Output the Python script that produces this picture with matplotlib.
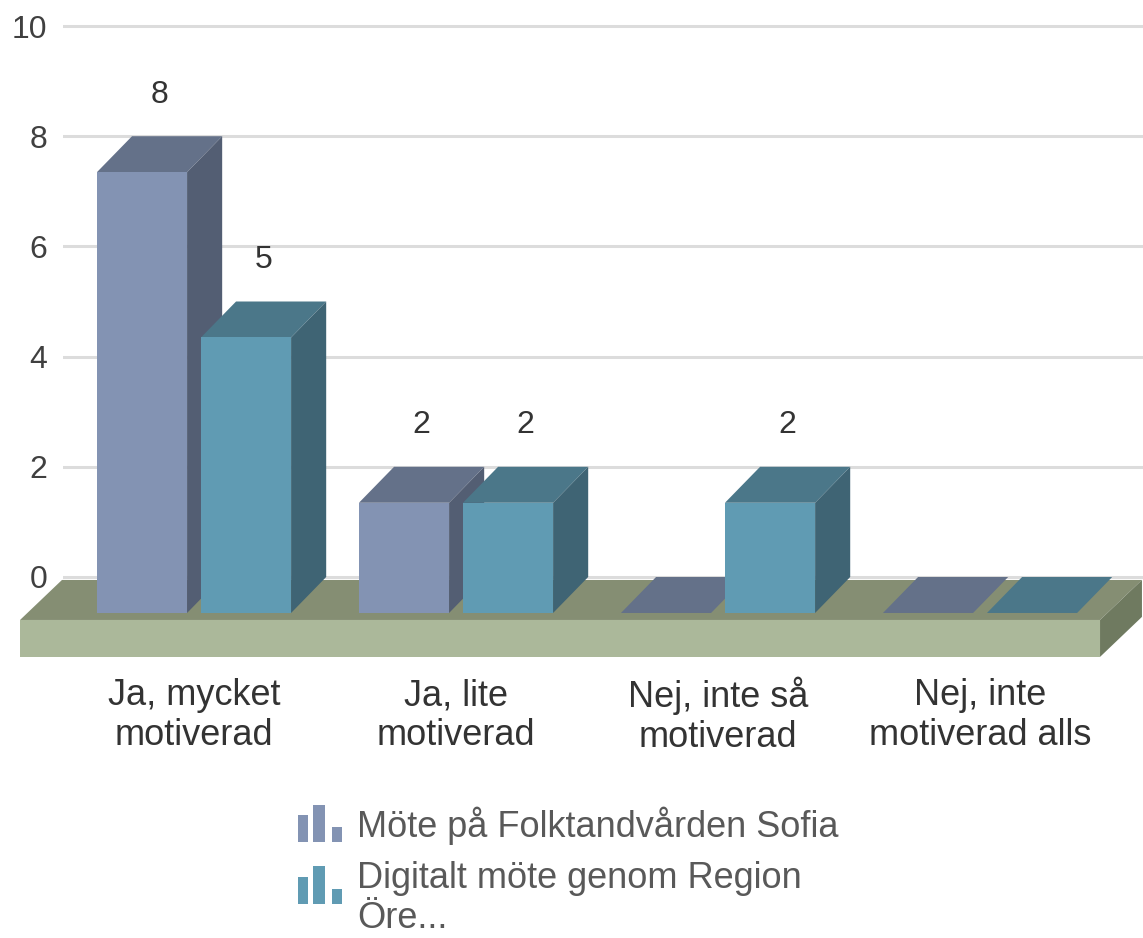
import matplotlib
matplotlib.use("Agg")
import matplotlib.pyplot as plt
from matplotlib.patches import Polygon, Rectangle
from matplotlib.legend_handler import HandlerBase

# ---------------- data ----------------
categories = ["Ja, mycket\nmotiverad", "Ja, lite\nmotiverad",
              "Nej, inte så\nmotiverad", "Nej, inte\nmotiverad alls"]
series_names = ["Möte på Folktandvården Sofia", "Digitalt möte genom Region\nÖre..."]
values_sofia = [8, 2, 0, 0]
values_digital = [5, 2, 2, 0]
y_ticks = [0, 2, 4, 6, 8, 10]

# ---------------- style ----------------
FONT = ["Liberation Sans", "DejaVu Sans"]
plt.rcParams["font.family"] = FONT
series_colors = [
    {"front": "#8393b3", "top": "#647189", "side": "#535e73"},
    {"front": "#609bb3", "top": "#4b7789", "side": "#3f6474"},
]
floor_colors = {"top": "#858e73", "front": "#abb89a", "side": "#6f7a60"}
grid_color = "#dcdcdc"

bar_w = 0.344      # width of a bar front face (category units)
bar_gap = 0.053    # gap between bars inside a group
dx, dy = 0.134, 0.653          # 3D depth offset of bars
floor_back_y = -0.054
floor_front_y = -0.78
floor_thick = 0.67
fdx = 0.160
fdy = floor_back_y - floor_front_y
floor_left, floor_right = -0.664, 3.458  # floor front edge x-range

fig = plt.figure(figsize=(11.43, 9.38), dpi=100)
ax = fig.add_axes([63 / 1143, 0, 1080 / 1143, 1])
ax.set_xlim(-0.5, 3.622)
ax.set_ylim(-6.552, 10.472)
for s in ax.spines.values():
    s.set_visible(False)
ax.set_xticks([])
ax.set_yticks(y_ticks)
ax.set_yticklabels([str(t) for t in y_ticks])
ax.tick_params(axis="y", length=0, pad=11.5, labelsize=23, labelcolor="#404040")
ax.yaxis.grid(True, color=grid_color, linewidth=2.2)
ax.set_axisbelow(True)

# ---------------- floor ----------------
ft = floor_front_y
floor_top = Polygon([(floor_left, ft), (floor_right, ft),
                     (floor_right + fdx, ft + fdy), (floor_left + fdx, ft + fdy)],
                    closed=True, facecolor=floor_colors["top"], edgecolor="none",
                    zorder=2, clip_on=False)
floor_front = Rectangle((floor_left, ft - floor_thick), floor_right - floor_left, floor_thick,
                        facecolor=floor_colors["front"], edgecolor="none",
                        zorder=2, clip_on=False)
floor_side = Polygon([(floor_right, ft), (floor_right + fdx, ft + fdy),
                      (floor_right + fdx, ft + fdy - floor_thick),
                      (floor_right, ft - floor_thick)],
                     closed=True, facecolor=floor_colors["side"], edgecolor="none",
                     zorder=2, clip_on=False)
for p in (floor_top, floor_front, floor_side):
    ax.add_patch(p)

# ---------------- bars ----------------
all_series = [values_sofia, values_digital]
offsets = [-(bar_gap / 2 + bar_w / 2), bar_gap / 2 + bar_w / 2]
z = 3
for ci in range(len(categories)):
    for si, vals in enumerate(all_series):
        v = vals[ci]
        col = series_colors[si]
        xc = ci + offsets[si]
        x0, x1 = xc - bar_w / 2, xc + bar_w / 2
        ax.bar(xc, v, width=bar_w, bottom=-dy, color=col["front"],
               edgecolor="none", zorder=z + 0.2)
        top = Polygon([(x0, v - dy), (x1, v - dy), (x1 + dx, v), (x0 + dx, v)],
                      closed=True, facecolor=col["top"], edgecolor="none", zorder=z)
        side = Polygon([(x1, -dy), (x1 + dx, 0), (x1 + dx, v), (x1, v - dy)],
                       closed=True, facecolor=col["side"], edgecolor="none", zorder=z)
        ax.add_patch(top)
        ax.add_patch(side)
        if v > 0:
            ax.text(xc + dx / 2, v + 0.75, str(v), ha="center", va="center",
                    fontsize=23, color="#333333", zorder=10)
        z += 1

# ---------------- category labels ----------------
for ci, lab in enumerate(categories):
    ax.text(ci, -2.52, lab, ha="center", va="center", fontsize=26,
            color="#333333", linespacing=1.195, clip_on=False)

# ---------------- legend ----------------
class BarIconHandler(HandlerBase):
    def __init__(self, yshift=0.0):
        super().__init__()
        self.yshift = yshift

    def create_artists(self, legend, orig_handle, xdescent, ydescent,
                       width, height, fontsize, trans):
        c = orig_handle.get_facecolor()
        widths = [0.23, 0.27, 0.23]
        xs = [0.0, 0.34, 0.77]
        hs = [0.75, 1.05, 0.42]
        y0 = (-0.14 + self.yshift) * fontsize
        arts = []
        for xf, wf, hf in zip(xs, widths, hs):
            r = Rectangle((xf * width, y0), wf * width, hf * fontsize,
                          facecolor=c, edgecolor="none", transform=trans)
            arts.append(r)
        return arts

h1 = Rectangle((0, 0), 1, 1, facecolor=series_colors[0]["front"])
h2 = Rectangle((0, 0), 1, 1, facecolor=series_colors[1]["front"])
leg = ax.legend([h1, h2], series_names, loc="upper left",
                bbox_to_anchor=(298 / 1143, 1 - 807 / 938),
                bbox_transform=fig.transFigure, frameon=False, fontsize=26,
                handlelength=1.22, handletextpad=0.42, labelspacing=0.42,
                borderpad=0, borderaxespad=0,
                handler_map={h1: BarIconHandler(0.0), h2: BarIconHandler(0.36)})
for t in leg.get_texts():
    t.set_color("#595959")
    t.set_linespacing(1.2)

fig.savefig("out.png", dpi=100)
